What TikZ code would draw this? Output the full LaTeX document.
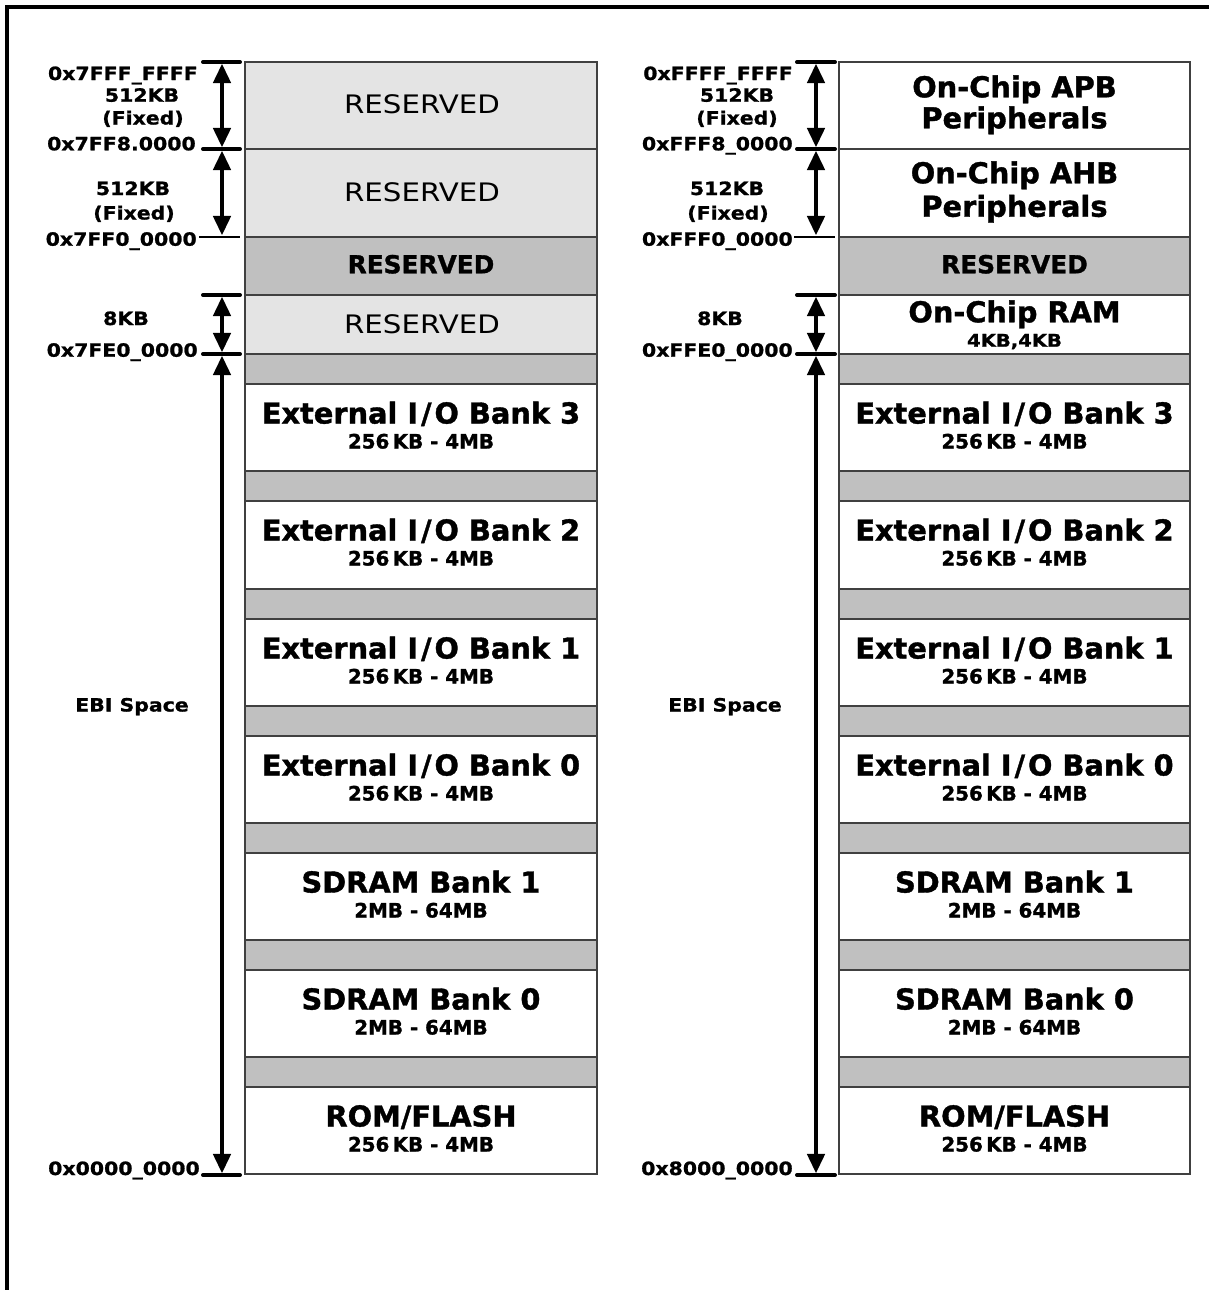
\documentclass[tikz,border=0pt]{standalone}
\usepackage{fontspec}
\setmainfont{DejaVu Sans}
\newfontfamily\titlefont[FakeBold=1.3]{DejaVu Sans Bold}
\newfontfamily\lblfont[FakeStretch=1.12, FakeBold=1.1]{DejaVu Sans Bold}
\newfontfamily\regfont[FakeStretch=1.15]{DejaVu Sans}
\usetikzlibrary{arrows.meta}
\definecolor{dotgray}{RGB}{228,228,228}
\definecolor{darkrow}{RGB}{192,192,192}
\definecolor{edgecol}{RGB}{64,64,64}
\newcommand{\iosep}{I\kern2.2pt/\kern2.2pt O}
\tikzset{
  frameline/.style={line width=2.3pt, black},
  rowbase/.style={draw=edgecol, line width=1.1pt},
  dotrow/.style={rowbase, fill=dotgray},
  gaprow/.style={rowbase, fill=darkrow},
  whiterow/.style={rowbase, fill=white},
  titletext/.style={anchor=base, inner sep=0pt, font=\titlefont\fontsize{21.6}{26}\selectfont},
  subtext/.style={anchor=base, inner sep=0pt, font=\titlefont\fontsize{14.9}{17}\selectfont},
  resbold/.style={anchor=base, inner sep=0pt, font=\titlefont\fontsize{18.6}{22}\selectfont},
  resreg/.style={anchor=base, inner sep=0pt, font=\regfont\fontsize{19.1}{22}\selectfont},
  ramsub/.style={anchor=base, inner sep=0pt, font=\lblfont\fontsize{13.1}{16}\selectfont},
  addr/.style={anchor=base east, inner sep=0pt, font=\lblfont\fontsize{13.7}{16}\selectfont},
  sizelbl/.style={anchor=base, inner sep=0pt, font=\lblfont\fontsize{13.7}{16}\selectfont},
  tickbar/.style={line width=3pt, line cap=round},
  thinbar/.style={line width=1.4pt},
  dimarrow/.style={line width=2.8pt, {Triangle[length=14.5pt,width=13pt]}-{Triangle[length=14.5pt,width=13pt]}, shorten <=1.3pt, shorten >=1.3pt}
}
\begin{document}
\begin{tikzpicture}[x=0.75pt,y=-0.75pt]
\useasboundingbox (0,0) rectangle (1209,1290);
\draw[frameline] (7,1290) -- (7,7) -- (1209,7);

% ---------- rows common to both columns ----------
\foreach \xa/\xb in {245/597, 839/1190} {
  \foreach \t/\b in {237/295,354/384,471/501,589/619,706/736,823/853,940/970,1057/1087}
    \draw[gaprow] (\xa,\t) rectangle (\xb,\b);
  \foreach \t/\b in {384/471,501/589,619/706,736/823,853/940,970/1057,1087/1174}
    \draw[whiterow] (\xa,\t) rectangle (\xb,\b);
}
% left top rows (dotted)
\foreach \t/\b in {62/149,149/237,295/354}
  \draw[dotrow] (245,\t) rectangle (597,\b);
% right top rows (white)
\foreach \t/\b in {62/149,149/237,295/354}
  \draw[whiterow] (839,\t) rectangle (1190,\b);

% ---------- left column texts ----------
\node[resreg]  (lres1) at (422,113.3) {RESERVED};
\node[resreg]  (lres2) at (422,201.7) {RESERVED};
\node[resbold] (lres3) at (421,273.3) {RESERVED};
\node[resreg]  (lres4) at (422,333.3) {RESERVED};
\node[titletext] (lb3) at (421,423.5) {External \iosep{} Bank 3};
\node[subtext]   (lb3s) at (421,448.5) {256\,KB - 4MB};
\node[titletext] (lb2) at (421,540.5) {External \iosep{} Bank 2};
\node[subtext]   (lb2s) at (421,565.5) {256\,KB - 4MB};
\node[titletext] (lb1) at (421,658.5) {External \iosep{} Bank 1};
\node[subtext]   (lb1s) at (421,683.5) {256\,KB - 4MB};
\node[titletext] (lb0) at (421,775.5) {External \iosep{} Bank 0};
\node[subtext]   (lb0s) at (421,800.5) {256\,KB - 4MB};
\node[titletext] (ls1) at (421,892.5) {SDRAM Bank 1};
\node[subtext]   (ls1s) at (421,917.5) {2MB - 64MB};
\node[titletext] (ls0) at (421,1009.5) {SDRAM Bank 0};
\node[subtext]   (ls0s) at (421,1034.5) {2MB - 64MB};
\node[titletext] (lrom) at (421,1126.5) {ROM/FLASH};
\node[subtext]   (lroms) at (421,1151.5) {256\,KB - 4MB};

% ---------- right column texts ----------
\node[titletext] (rapb) at (1014.5,97.3) {On-Chip APB};
\node[titletext] (rapb2) at (1014.5,128.3) {Peripherals};
\node[titletext] (rahb) at (1014.5,183.3) {On-Chip AHB};
\node[titletext] (rahb2) at (1014.5,216.7) {Peripherals};
\node[resbold]   (rres) at (1014.5,273.3) {RESERVED};
\node[titletext] (rram) at (1014.5,322.3) {On-Chip RAM};
\node[ramsub]    (rrams) at (1014.5,346.7) {4KB,4KB};
\node[titletext] (rb3) at (1014.5,423.5) {External \iosep{} Bank 3};
\node[subtext]   (rb3s) at (1014.5,448.5) {256\,KB - 4MB};
\node[titletext] (rb2) at (1014.5,540.5) {External \iosep{} Bank 2};
\node[subtext]   (rb2s) at (1014.5,565.5) {256\,KB - 4MB};
\node[titletext] (rb1) at (1014.5,658.5) {External \iosep{} Bank 1};
\node[subtext]   (rb1s) at (1014.5,683.5) {256\,KB - 4MB};
\node[titletext] (rb0) at (1014.5,775.5) {External \iosep{} Bank 0};
\node[subtext]   (rb0s) at (1014.5,800.5) {256\,KB - 4MB};
\node[titletext] (rs1) at (1014.5,892.5) {SDRAM Bank 1};
\node[subtext]   (rs1s) at (1014.5,917.5) {2MB - 64MB};
\node[titletext] (rs0) at (1014.5,1009.5) {SDRAM Bank 0};
\node[subtext]   (rs0s) at (1014.5,1034.5) {2MB - 64MB};
\node[titletext] (rrom) at (1014.5,1126.5) {ROM/FLASH};
\node[subtext]   (rroms) at (1014.5,1151.5) {256\,KB - 4MB};

% ---------- left dimension marks ----------
\foreach \y in {62,149,295,354,1175} \draw[tickbar] (203,\y) -- (240,\y);
\draw[thinbar] (199,237) -- (240,237);
\coordinate (la0) at (222,62);
\coordinate (la1) at (222,149);
\coordinate (la2) at (222,237);
\coordinate (la3) at (222,295);
\coordinate (la4) at (222,354);
\coordinate (la5) at (222,1175);
\draw[dimarrow] (la0) -- (la1);
\draw[dimarrow] (la1) -- (la2);
\draw[dimarrow] (la3) -- (la4);
\draw[dimarrow] (la4) -- (la5);

\node[addr] (lad0) at (198,80) {0x7FFF\_FFFF};
\node[sizelbl] (lsz0) at (142,101.7) {512KB};
\node[sizelbl] (lfx0) at (143,124.5) {(Fixed)};
\node[addr] (lad1) at (196,150.3) {0x7FF8.0000};
\node[sizelbl] (lsz1) at (133,195) {512KB};
\node[sizelbl] (lfx1) at (134,219.5) {(Fixed)};
\node[addr] (lad2) at (197,245.7) {0x7FF0\_0000};
\node[sizelbl] (lsz2) at (126,325) {8KB};
\node[addr] (lad3) at (198,356.7) {0x7FE0\_0000};
\node[sizelbl] (lebi) at (132,711.5) {EBI Space};
\node[addr] (lad4) at (200,1175) {0x0000\_0000};

% ---------- right dimension marks ----------
\foreach \y in {62,149,295,354,1175} \draw[tickbar] (797,\y) -- (835,\y);
\draw[thinbar] (794,237) -- (835,237);
\coordinate (ra0) at (816,62);
\coordinate (ra1) at (816,149);
\coordinate (ra2) at (816,237);
\coordinate (ra3) at (816,295);
\coordinate (ra4) at (816,354);
\coordinate (ra5) at (816,1175);
\draw[dimarrow] (ra0) -- (ra1);
\draw[dimarrow] (ra1) -- (ra2);
\draw[dimarrow] (ra3) -- (ra4);
\draw[dimarrow] (ra4) -- (ra5);

\node[addr] (rad0) at (793,80) {0xFFFF\_FFFF};
\node[sizelbl] (rsz0) at (737,101.7) {512KB};
\node[sizelbl] (rfx0) at (737,124.5) {(Fixed)};
\node[addr] (rad1) at (793,150.3) {0xFFF8\_0000};
\node[sizelbl] (rsz1) at (727,195) {512KB};
\node[sizelbl] (rfx1) at (728,219.5) {(Fixed)};
\node[addr] (rad2) at (793,245.7) {0xFFF0\_0000};
\node[sizelbl] (rsz2) at (720,325) {8KB};
\node[addr] (rad3) at (793,356.7) {0xFFE0\_0000};
\node[sizelbl] (rebi) at (725,711.5) {EBI Space};
\node[addr] (rad4) at (793,1175) {0x8000\_0000};
\end{tikzpicture}
\end{document}
